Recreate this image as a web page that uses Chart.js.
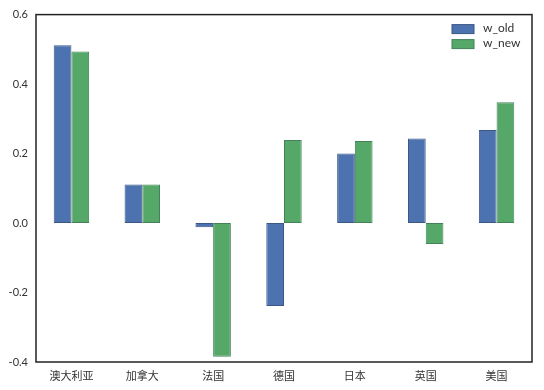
<!DOCTYPE html>
<html lang="zh">
<head>
	<meta charset="UTF-8">
	<title>w_old / w_new</title>
	<script src="https://cdn.jsdelivr.net/npm/chart.js"></script>
	<style>
		html, body { margin: 0; padding: 0; background: #fff; }
		#wrap { width: 544px; height: 390px; }
	</style>
</head>
<body>
	<div id="wrap"><canvas id="chart"></canvas></div>
	<script>
		const countries = ['澳大利亚', '加拿大', '法国', '德国', '日本', '英国', '美国'];
		const wOld = [0.512, 0.111, -0.012, -0.239, 0.200, 0.243, 0.268];
		const wNew = [0.494, 0.111, -0.385, 0.239, 0.236, -0.060, 0.348];
		const yTicks = [-0.4, -0.2, 0.0, 0.2, 0.4, 0.6];

		const FONT = 'Lato, "Noto Sans CJK SC", sans-serif';

		// frame around plot + legend inside top right
		const framePlugin = {
			id: 'frame',
			afterDraw(chart) {
				const c = chart.ctx, a = chart.chartArea;
				c.save();
				c.strokeStyle = '#222';
				c.lineWidth = 1.5;
				c.strokeRect(a.left, a.top, a.right - a.left, a.bottom - a.top);

				c.font = '12px ' + FONT;
				c.textBaseline = 'middle';
				chart.data.datasets.forEach((ds, i) => {
					const y = a.top + 14 + i * 15;
					const x = a.right - 80;
					c.fillStyle = ds.backgroundColor;
					c.fillRect(x, y - 4, 22, 9);
					c.strokeStyle = ds.borderColor;
					c.lineWidth = 1;
					c.strokeRect(x, y - 4, 22, 9);
					c.fillStyle = '#333';
					c.fillText(ds.label, x + 31, y);
				});
				c.restore();
			}
		};

		new Chart(document.getElementById('chart'), {
			type: 'bar',
			data: {
				labels: countries,
				datasets: [{
					label: 'w_old',
					data: wOld,
					backgroundColor: '#4C72B0',
					borderColor: '#3b5785',
					borderWidth: 1,
					borderSkipped: false
				}, {
					label: 'w_new',
					data: wNew,
					backgroundColor: '#55A868',
					borderColor: '#43825a',
					borderWidth: 1,
					borderSkipped: false
				}]
			},
			options: {
				responsive: true,
				maintainAspectRatio: false,
				animation: false,
				layout: { padding: { top: 13, right: 12, left: 0, bottom: 0 } },
				datasets: { bar: { categoryPercentage: 0.5, barPercentage: 1.0 } },
				plugins: {
					legend: { display: false },
					tooltip: { enabled: false }
				},
				scales: {
					x: {
						grid: { display: false, drawTicks: false },
						border: { display: false },
						ticks: { color: '#333', padding: 8, font: { family: FONT, size: 11 } },
						afterFit(s) { s.height = 28; }
					},
					y: {
						min: -0.4,
						max: 0.6,
						grid: { display: false, drawTicks: false },
						border: { display: false },
						afterBuildTicks(s) { s.ticks = yTicks.map(v => ({ value: v })); },
						ticks: {
							color: '#333',
							padding: 8,
							font: { family: FONT, size: 11 },
							callback: v => v.toFixed(1)
						},
						afterFit(s) { s.width = 36; }
					}
				}
			},
			plugins: [framePlugin]
		});
	</script>
</body>
</html>
